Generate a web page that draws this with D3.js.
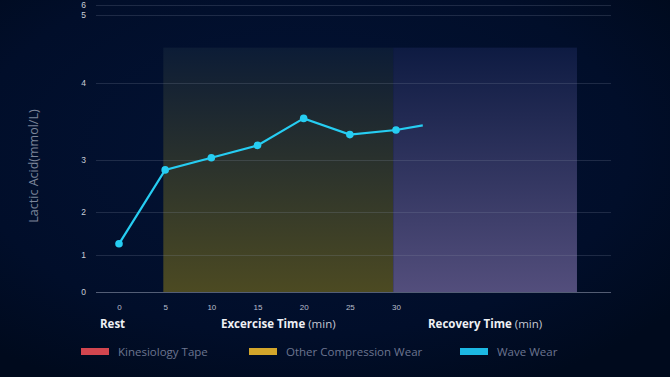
<!DOCTYPE html>
<html>
<head>
<meta charset="utf-8">
<script src="https://cdn.jsdelivr.net/npm/d3@7"></script>
<style>
  html, body { margin: 0; padding: 0; background: #010d26; }
  svg { display: block; font-family: "Open Sans", "Noto Sans", sans-serif; }
</style>
</head>
<body>
<div id="canvas"></div>
<script>
"use strict"

/*** DATA ***/
let minutes = [0, 5, 10, 15, 20, 25, 30, 32.9]
let lactic  = [1.26, 2.81, 3.03, 3.19, 3.54, 3.33, 3.39, 3.45]
let dotted  = [true, true, true, true, true, true, true, false]   // last point is only the line end
let xTicks  = [0, 5, 10, 15, 20, 25, 30]
let yTicks  = [0, 1, 2, 3, 4, 5, 6]
let phaseNames = ["Exercise", "Recovery"]
let phaseStart = [4.8, 29.7]
let phaseEnd   = [29.7, 49.6]
let phaseTop   = [4.52, 4.52]
let seriesNames  = ["Kinesiology Tape", "Other Compression Wear", "Wave Wear"]
let seriesColors = ["#d2464f", "#d3a62b", "#1cb8e3"]

/*** CANVAS SETUP ***/
let svgWidth = 670
let svgHeight = 377

let svg = d3.select("#canvas")
    .append("svg")
    .attr("width", svgWidth)
    .attr("height", svgHeight)

let defs = svg.append("defs")

/* background with darker edges */
let bg = defs.append("radialGradient").attr("id", "bg")
    .attr("cx", "45%").attr("cy", "40%").attr("r", "70%")
bg.append("stop").attr("offset", "0%").attr("stop-color", "#031335")
bg.append("stop").attr("offset", "70%").attr("stop-color", "#010e2a")
bg.append("stop").attr("offset", "100%").attr("stop-color", "#000a1d")

svg.append("rect")
    .attr("width", svgWidth)
    .attr("height", svgHeight)
    .attr("fill", "url(#bg)")

/* band gradients, faint at the top */
let g1 = defs.append("linearGradient").attr("id", "band0").attr("x1", 0).attr("y1", 0).attr("x2", 0).attr("y2", 1)
g1.append("stop").attr("offset", "0%").attr("stop-color", "#0c1c36")
g1.append("stop").attr("offset", "100%").attr("stop-color", "#4c4a22")
let g2 = defs.append("linearGradient").attr("id", "band1").attr("x1", 0).attr("y1", 0).attr("x2", 0).attr("y2", 1)
g2.append("stop").attr("offset", "0%").attr("stop-color", "#0e1b42")
g2.append("stop").attr("offset", "100%").attr("stop-color", "#534e7c")

/*** SCALES ***/
let xScale = d3.scaleLinear()
    .domain([0, 30])
    .range([119, 396])

// axis stretches unevenly, so the y scale is piecewise
let yScale = d3.scaleLinear()
    .domain(yTicks)
    .range([292, 255, 212, 160, 83, 15, 5])

/*** BANDS ***/
svg.selectAll(".band")
    .data(phaseNames)
    .join("rect")
    .attr("class", "band")
    .attr("x", (d, i) => xScale(phaseStart[i]))
    .attr("width", (d, i) => xScale(phaseEnd[i]) - xScale(phaseStart[i]))
    .attr("y", (d, i) => yScale(phaseTop[i]))
    .attr("height", (d, i) => yScale(0) - yScale(phaseTop[i]))
    .attr("fill", (d, i) => "url(#band" + i + ")")

/*** GRID + Y AXIS ***/
let yAxis = d3.axisLeft(yScale)
    .tickValues(yTicks)
    .tickSize(-(611 - 96))
    .tickPadding(10)
    .tickFormat(d3.format("d"))

let yg = svg.append("g")
    .attr("transform", "translate(96, 0)")
    .call(yAxis)
yg.select(".domain").remove()
yg.selectAll(".tick line")
    .attr("stroke", "#8a93a8")
    .attr("stroke-opacity", d => d === 0 ? 0.6 : 0.22)
yg.selectAll(".tick text")
    .attr("fill", "#c9ced8")
    .attr("font-size", "8.5px")

/*** X AXIS ***/
let xAxis = d3.axisBottom(xScale)
    .tickValues(xTicks)
    .tickSize(0)
    .tickPadding(12)

let xg = svg.append("g")
    .attr("transform", "translate(0, 292)")
    .call(xAxis)
xg.select(".domain").remove()
xg.selectAll(".tick text")
    .attr("fill", "#b9bfcc")
    .attr("font-size", "8px")

/*** LINE ***/
let line = d3.line()
    .x((d, i) => xScale(minutes[i]))
    .y(d => yScale(d))

svg.append("path")
    .datum(lactic)
    .attr("d", line)
    .attr("fill", "none")
    .attr("stroke", "#26cdf2")
    .attr("stroke-width", 2.2)

svg.selectAll(".dot")
    .data(lactic.filter((d, i) => dotted[i]))
    .join("circle")
    .attr("class", "dot")
    .attr("cx", (d, i) => xScale(minutes[i]))
    .attr("cy", d => yScale(d))
    .attr("r", 3.8)
    .attr("fill", "#26cdf2")

/*** AXIS TITLES ***/
svg.append("text")
    .attr("transform", "translate(38, 166) rotate(-90)")
    .attr("text-anchor", "middle")
    .attr("fill", "#7c859a")
    .attr("font-size", "12.5px")
    .text("Lactic Acid(mmol/L)")

let titleY = 328
svg.append("text")
    .attr("x", 100).attr("y", titleY)
    .attr("fill", "#eef0f4")
    .attr("font-size", "11.5px")
    .attr("font-weight", "bold")
    .text("Rest")

let t1 = svg.append("text")
    .attr("x", 221).attr("y", titleY)
    .attr("fill", "#eef0f4")
    .attr("font-size", "11.5px")
t1.append("tspan").attr("font-weight", "bold").text("Excercise Time ")
t1.append("tspan").attr("fill", "#c4c8d2").text("(min)")

let t2 = svg.append("text")
    .attr("x", 428).attr("y", titleY)
    .attr("fill", "#eef0f4")
    .attr("font-size", "11.5px")
t2.append("tspan").attr("font-weight", "bold").text("Recovery Time ")
t2.append("tspan").attr("fill", "#c4c8d2").text("(min)")

/*** LEGEND ***/
let legendX = [81, 249, 460]
let legend = svg.selectAll(".legend")
    .data(seriesNames)
    .join("g")
    .attr("class", "legend")
    .attr("transform", (d, i) => "translate(" + legendX[i] + ", 348)")

legend.append("rect")
    .attr("width", 28)
    .attr("height", 7)
    .attr("fill", (d, i) => seriesColors[i])

legend.append("text")
    .attr("x", 37)
    .attr("y", 7.5)
    .attr("fill", "#6c7590")
    .attr("font-size", "11.5px")
    .text(d => d)
</script>
</body>
</html>
